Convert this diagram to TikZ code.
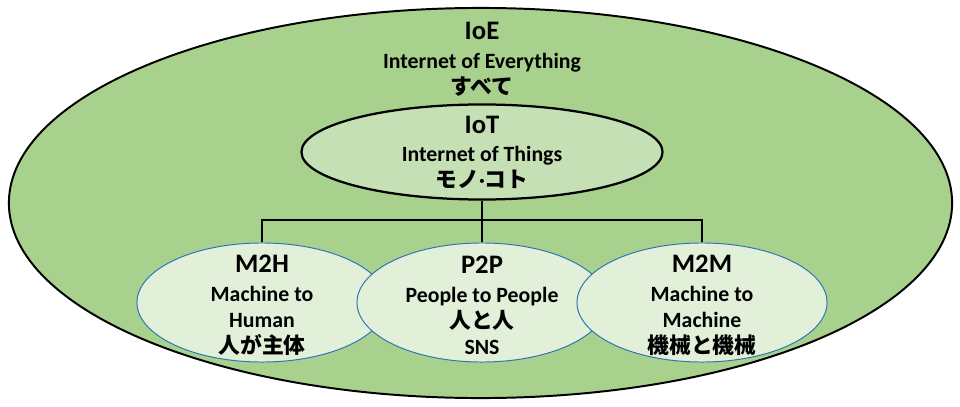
\documentclass[tikz,border=0pt]{standalone}
\usepackage{fontspec}
\setmainfont{Carlito}
\newfontfamily\jpfont{Noto Sans CJK JP}
\usetikzlibrary{shapes.geometric, positioning}
\definecolor{outergreen}{RGB}{169, 209, 142}
\definecolor{midgreen}{RGB}{197, 224, 180}
\definecolor{palegreen}{RGB}{226, 240, 217}
\definecolor{rimblue}{RGB}{46, 117, 182}
\newcommand{\headtxt}[1]{{\fontsize{19}{19}\selectfont #1}}

\begin{document}
\begin{tikzpicture}[
    x=0.025cm, y=-0.025cm,
    ioeblock/.style={ellipse, draw=black, fill=outergreen, line width=1.4pt, minimum width=23.575cm, minimum height=9.75cm, inner sep=0pt},
    iotblock/.style={ellipse, draw=black, fill=midgreen, line width=1.6pt, minimum width=9.025cm, minimum height=2.375cm, inner sep=0pt},
    subblock/.style={ellipse, draw=rimblue, fill=palegreen, line width=0.7pt, minimum width=6.25cm, minimum height=2.975cm, inner sep=0pt},
    lbl/.style={align=center, inner sep=0pt, font=\bfseries\fontsize{15.5}{18.5}\selectfont},
    link/.style={line width=1.4pt, black}
]
\useasboundingbox (0,0) rectangle (960,407);

\node (ioe) [ioeblock] at (480.5,203) {};
\node (ioelbl) [lbl, anchor=north] at (482,21.5) {\headtxt{IoE}\\[2.5pt] Internet of Everything\\ {\jpfont すべて}};

\node (iot) [iotblock] at (482,152) {};
\node (iotlbl) [lbl] at (iot) {\headtxt{IoT}\\[1.5pt] Internet of Things\\ {\jpfont モノ}·{\jpfont コト}};

\coordinate (bus) at (482,220);

\node (m2h) [subblock] at (262,302.5) {};
\node (m2hlbl) [lbl, yshift=-0.07cm] at (m2h) {\headtxt{M2H}\\[2pt] Machine to\\ Human\\ {\jpfont 人が主体}};

\node (p2p) [subblock] at (482,302.5) {};
\node (p2plbl) [lbl, yshift=-0.07cm] at (p2p) {\headtxt{P2P}\\[2pt] People to People\\ {\jpfont 人と人}\\ SNS};

\node (m2m) [subblock] at (702,302.5) {};
\node (m2mlbl) [lbl, yshift=-0.07cm] at (m2m) {\headtxt{M2M}\\[2pt] Machine to\\ Machine\\ {\jpfont 機械と機械}};

\draw[link] (iot.south) -- (p2p.north);
\draw[link] (m2h.north) |- (bus) -| (m2m.north);

\end{tikzpicture}
\end{document}
